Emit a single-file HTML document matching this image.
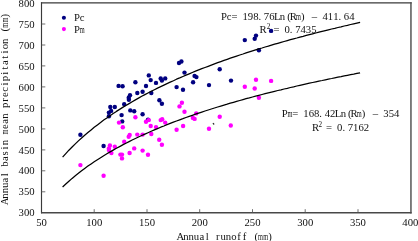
<!DOCTYPE html>
<html><head><meta charset="utf-8"><title>chart</title>
<style>
html,body{margin:0;padding:0;background:#fff;}
body{width:418px;height:241px;overflow:hidden;}
svg{display:block;will-change:transform;}
text{font-family:"Liberation Serif",serif;font-size:10.7px;fill:#111;}
</style></head><body>
<svg width="418" height="241" viewBox="0 0 418 241">
<rect x="0" y="0" width="418" height="241" fill="#fff"/>

<path d="M41.5,213.4 V2.3" stroke="#3a3a3a" stroke-width="1.15" fill="none"/>
<path d="M40.95,2.85 H411.7" stroke="#3a3a3a" stroke-width="1.1" fill="none"/>
<path d="M410.95,2.3 V213.4" stroke="#505050" stroke-width="1.45" fill="none"/>
<path d="M41.1,212.75 H411.6" stroke="#484848" stroke-width="1.35" fill="none"/>
<path d="M94.2,212.8 V209.20000000000002 M147.0,212.8 V209.20000000000002 M199.7,212.8 V209.20000000000002 M252.5,212.8 V209.20000000000002 M305.2,212.8 V209.20000000000002 M358.0,212.8 V209.20000000000002 M41.5,191.8 H45.3 M41.5,170.8 H45.3 M41.5,149.9 H45.3 M41.5,128.9 H45.3 M41.5,107.9 H45.3 M41.5,86.9 H45.3 M41.5,65.9 H45.3 M41.5,45.0 H45.3 M41.5,24.0 H45.3" stroke="#555" stroke-width="0.85" fill="none"/>
<g transform="translate(0,225.5)"><text text-anchor="middle" x="38.83 44.17" y="0" xml:space="preserve">50</text></g>
<g transform="translate(0,225.5)"><text text-anchor="middle" x="88.91 94.24 99.58" y="0" xml:space="preserve">100</text></g>
<g transform="translate(0,225.5)"><text text-anchor="middle" x="141.65 146.99 152.32" y="0" xml:space="preserve">150</text></g>
<g transform="translate(0,225.5)"><text text-anchor="middle" x="194.40 199.73 205.06" y="0" xml:space="preserve">200</text></g>
<g transform="translate(0,225.5)"><text text-anchor="middle" x="247.14 252.47 257.80" y="0" xml:space="preserve">250</text></g>
<g transform="translate(0,225.5)"><text text-anchor="middle" x="299.88 305.21 310.55" y="0" xml:space="preserve">300</text></g>
<g transform="translate(0,225.5)"><text text-anchor="middle" x="352.62 357.96 363.29" y="0" xml:space="preserve">350</text></g>
<g transform="translate(0,225.5)"><text text-anchor="middle" x="404.97 410.30 415.63" y="0" xml:space="preserve">400</text></g>
<g transform="translate(0,216.4)"><text text-anchor="middle" x="21.27 26.60 31.93" y="0" xml:space="preserve">300</text></g>
<g transform="translate(0,195.4)"><text text-anchor="middle" x="21.27 26.60 31.93" y="0" xml:space="preserve">350</text></g>
<g transform="translate(0,174.4)"><text text-anchor="middle" x="21.27 26.60 31.93" y="0" xml:space="preserve">400</text></g>
<g transform="translate(0,153.5)"><text text-anchor="middle" x="21.27 26.60 31.93" y="0" xml:space="preserve">450</text></g>
<g transform="translate(0,132.5)"><text text-anchor="middle" x="21.27 26.60 31.93" y="0" xml:space="preserve">500</text></g>
<g transform="translate(0,111.5)"><text text-anchor="middle" x="21.27 26.60 31.93" y="0" xml:space="preserve">550</text></g>
<g transform="translate(0,90.5)"><text text-anchor="middle" x="21.27 26.60 31.93" y="0" xml:space="preserve">600</text></g>
<g transform="translate(0,69.5)"><text text-anchor="middle" x="21.27 26.60 31.93" y="0" xml:space="preserve">650</text></g>
<g transform="translate(0,48.6)"><text text-anchor="middle" x="21.27 26.60 31.93" y="0" xml:space="preserve">700</text></g>
<g transform="translate(0,27.6)"><text text-anchor="middle" x="21.27 26.60 31.93" y="0" xml:space="preserve">750</text></g>
<g transform="translate(0,6.6)"><text text-anchor="middle" x="21.27 26.60 31.93" y="0" xml:space="preserve">800</text></g>
<g transform="translate(0,239.8)"><text text-anchor="middle" x="180.47 185.80 191.13 196.47 201.80 207.13 212.46 217.80 223.13 228.46 233.80 239.13 244.46 249.80 256.23 260.46 265.79 270.03" y="0" xml:space="preserve">Annual runoff (  )</text><text x="258.00" y="0" textLength="4.93" lengthAdjust="spacingAndGlyphs">m</text><text x="263.33" y="0" textLength="4.93" lengthAdjust="spacingAndGlyphs">m</text></g>
<g transform="translate(8.2,204) rotate(-90)"><text text-anchor="middle" x="2.67 8.00 13.33 18.67 24.00 29.33 34.66 40.00 45.33 50.66 56.00 61.33 66.66 72.00 77.33 82.66 87.99 93.33 98.66 103.99 109.33 114.66 119.99 125.33 130.66 135.99 141.32 146.66 151.99 157.32 162.66 167.99 174.42 178.66 183.99 188.22" y="0" xml:space="preserve">Annual basin  ean precipitation (  )</text><text x="69.53" y="0" textLength="4.93" lengthAdjust="spacingAndGlyphs">m</text><text x="176.19" y="0" textLength="4.93" lengthAdjust="spacingAndGlyphs">m</text><text x="181.52" y="0" textLength="4.93" lengthAdjust="spacingAndGlyphs">m</text></g>
<g fill="#000080"><circle cx="80.4" cy="134.7" r="2.2"/><circle cx="110.3" cy="107.0" r="2.2"/><circle cx="114.8" cy="107.0" r="2.2"/><circle cx="111.1" cy="110.9" r="2.2"/><circle cx="108.9" cy="112.6" r="2.2"/><circle cx="108.9" cy="116.2" r="2.2"/><circle cx="124.2" cy="104.2" r="2.2"/><circle cx="121.6" cy="115.1" r="2.2"/><circle cx="122.2" cy="121.4" r="2.2"/><circle cx="130.3" cy="110.4" r="2.2"/><circle cx="134.2" cy="111.2" r="2.2"/><circle cx="142.6" cy="114.2" r="2.2"/><circle cx="148" cy="119.8" r="2.2"/><circle cx="161.9" cy="103.7" r="2.2"/><circle cx="159.4" cy="100.2" r="2.2"/><circle cx="103.6" cy="146.0" r="2.2"/><circle cx="181.4" cy="61.5" r="2.2"/><circle cx="179" cy="63" r="2.2"/><circle cx="184.5" cy="72.6" r="2.2"/><circle cx="194.6" cy="75.9" r="2.2"/><circle cx="196.4" cy="77.1" r="2.2"/><circle cx="193.1" cy="82.3" r="2.2"/><circle cx="183" cy="89.8" r="2.2"/><circle cx="209" cy="85.1" r="2.2"/><circle cx="219.7" cy="69.2" r="2.2"/><circle cx="231" cy="80.6" r="2.2"/><circle cx="148.8" cy="75.4" r="2.2"/><circle cx="150.7" cy="80.1" r="2.2"/><circle cx="160.7" cy="78.4" r="2.2"/><circle cx="161.9" cy="80.6" r="2.2"/><circle cx="165.2" cy="78.4" r="2.2"/><circle cx="156" cy="82.9" r="2.2"/><circle cx="135.4" cy="82.3" r="2.2"/><circle cx="146" cy="86" r="2.2"/><circle cx="122.6" cy="86.3" r="2.2"/><circle cx="142.6" cy="91.8" r="2.2"/><circle cx="137.3" cy="93" r="2.2"/><circle cx="151.3" cy="93" r="2.2"/><circle cx="130" cy="95.2" r="2.2"/><circle cx="128.7" cy="97.7" r="2.2"/><circle cx="128.9" cy="99.8" r="2.2"/><circle cx="176.6" cy="87.1" r="2.2"/><circle cx="118.6" cy="85.9" r="2.2"/><circle cx="244.8" cy="40.1" r="2.2"/><circle cx="256" cy="35.6" r="2.2"/><circle cx="254.7" cy="38.8" r="2.2"/><circle cx="271.1" cy="30.9" r="2.2"/><circle cx="258.9" cy="50.2" r="2.2"/></g>
<g fill="#ff00ff"><circle cx="119" cy="122.6" r="2.2"/><circle cx="122.8" cy="127.2" r="2.2"/><circle cx="128.7" cy="136.8" r="2.2"/><circle cx="129.7" cy="134.9" r="2.2"/><circle cx="80.4" cy="165.1" r="2.2"/><circle cx="103.6" cy="175.7" r="2.2"/><circle cx="109.9" cy="145.4" r="2.2"/><circle cx="108.9" cy="148.4" r="2.2"/><circle cx="108.9" cy="150" r="2.2"/><circle cx="111.4" cy="153.1" r="2.2"/><circle cx="114.8" cy="146.7" r="2.2"/><circle cx="120.4" cy="154.6" r="2.2"/><circle cx="122" cy="154.6" r="2.2"/><circle cx="122" cy="158.4" r="2.2"/><circle cx="124.2" cy="141.8" r="2.2"/><circle cx="129.6" cy="153" r="2.2"/><circle cx="135.4" cy="117.3" r="2.2"/><circle cx="146" cy="121.8" r="2.2"/><circle cx="148.8" cy="120.1" r="2.2"/><circle cx="150.7" cy="126" r="2.2"/><circle cx="156" cy="127.1" r="2.2"/><circle cx="160.7" cy="120.1" r="2.2"/><circle cx="162.2" cy="119.3" r="2.2"/><circle cx="165.2" cy="122.6" r="2.2"/><circle cx="176.6" cy="129.7" r="2.2"/><circle cx="183.1" cy="126" r="2.2"/><circle cx="184.5" cy="111.7" r="2.2"/><circle cx="179.5" cy="106.4" r="2.2"/><circle cx="181.9" cy="102.8" r="2.2"/><circle cx="137.3" cy="134.6" r="2.2"/><circle cx="142.6" cy="134.6" r="2.2"/><circle cx="151.3" cy="134" r="2.2"/><circle cx="159.2" cy="139.8" r="2.2"/><circle cx="161.9" cy="144.7" r="2.2"/><circle cx="134.2" cy="148.4" r="2.2"/><circle cx="142.6" cy="150.6" r="2.2"/><circle cx="148" cy="154.8" r="2.2"/><circle cx="244.8" cy="86.8" r="2.2"/><circle cx="196.2" cy="113.4" r="2.2"/><circle cx="192.9" cy="117.9" r="2.2"/><circle cx="194.6" cy="118.9" r="2.2"/><circle cx="209" cy="128.8" r="2.2"/><circle cx="219.7" cy="116.8" r="2.2"/><circle cx="230.8" cy="125.5" r="2.2"/><circle cx="256" cy="79.8" r="2.2"/><circle cx="254.7" cy="88.5" r="2.2"/><circle cx="271.1" cy="80.9" r="2.2"/><circle cx="258.9" cy="97.7" r="2.2"/></g>
<path d="M62.6,157.1 L65.8,153.6 L68.9,150.2 L72.1,147.0 L75.3,143.9 L78.4,140.9 L81.6,138.0 L84.7,135.2 L87.9,132.5 L91.1,129.9 L94.2,127.3 L97.4,124.9 L100.6,122.5 L103.7,120.1 L106.9,117.9 L110.1,115.7 L113.2,113.5 L116.4,111.4 L119.6,109.4 L122.7,107.4 L125.9,105.5 L129.1,103.6 L132.2,101.7 L135.4,99.9 L138.5,98.1 L141.7,96.3 L144.9,94.6 L148.0,93.0 L151.2,91.3 L154.4,89.7 L157.5,88.1 L160.7,86.6 L163.9,85.1 L167.0,83.6 L170.2,82.1 L173.4,80.7 L176.5,79.2 L179.7,77.9 L182.9,76.5 L186.0,75.1 L189.2,73.8 L192.3,72.5 L195.5,71.2 L198.7,69.9 L201.8,68.7 L205.0,67.5 L208.2,66.3 L211.3,65.1 L214.5,63.9 L217.7,62.7 L220.8,61.6 L224.0,60.4 L227.2,59.3 L230.3,58.2 L233.5,57.1 L236.6,56.1 L239.8,55.0 L243.0,54.0 L246.1,52.9 L249.3,51.9 L252.5,50.9 L255.6,49.9 L258.8,48.9 L262.0,48.0 L265.1,47.0 L268.3,46.1 L271.5,45.1 L274.6,44.2 L277.8,43.3 L281.0,42.4 L284.1,41.5 L287.3,40.6 L290.4,39.7 L293.6,38.8 L296.8,38.0 L299.9,37.1 L303.1,36.3 L306.3,35.4 L309.4,34.6 L312.6,33.8 L315.8,33.0 L318.9,32.2 L322.1,31.4 L325.3,30.6 L328.4,29.8 L331.6,29.0 L334.8,28.3 L337.9,27.5 L341.1,26.8 L344.2,26.0 L347.4,25.3 L350.6,24.5 L353.7,23.8 L356.9,23.1 L360.1,22.4" stroke="#000" stroke-width="1.25" fill="none" stroke-linejoin="round"/>
<path d="M62.6,187.0 L65.8,184.0 L68.9,181.2 L72.1,178.4 L75.3,175.8 L78.4,173.3 L81.6,170.8 L84.7,168.4 L87.9,166.1 L91.1,163.9 L94.2,161.8 L97.4,159.7 L100.6,157.7 L103.7,155.7 L106.9,153.8 L110.1,151.9 L113.2,150.1 L116.4,148.3 L119.6,146.6 L122.7,144.9 L125.9,143.2 L129.1,141.6 L132.2,140.0 L135.4,138.5 L138.5,137.0 L141.7,135.5 L144.9,134.1 L148.0,132.7 L151.2,131.3 L154.4,129.9 L157.5,128.6 L160.7,127.2 L163.9,126.0 L167.0,124.7 L170.2,123.4 L173.4,122.2 L176.5,121.0 L179.7,119.8 L182.9,118.7 L186.0,117.5 L189.2,116.4 L192.3,115.3 L195.5,114.2 L198.7,113.1 L201.8,112.1 L205.0,111.0 L208.2,110.0 L211.3,109.0 L214.5,108.0 L217.7,107.0 L220.8,106.1 L224.0,105.1 L227.2,104.2 L230.3,103.2 L233.5,102.3 L236.6,101.4 L239.8,100.5 L243.0,99.6 L246.1,98.7 L249.3,97.9 L252.5,97.0 L255.6,96.2 L258.8,95.3 L262.0,94.5 L265.1,93.7 L268.3,92.9 L271.5,92.1 L274.6,91.3 L277.8,90.5 L281.0,89.8 L284.1,89.0 L287.3,88.3 L290.4,87.5 L293.6,86.8 L296.8,86.0 L299.9,85.3 L303.1,84.6 L306.3,83.9 L309.4,83.2 L312.6,82.5 L315.8,81.8 L318.9,81.1 L322.1,80.5 L325.3,79.8 L328.4,79.1 L331.6,78.5 L334.8,77.8 L337.9,77.2 L341.1,76.6 L344.2,75.9 L347.4,75.3 L350.6,74.7 L353.7,74.1 L356.9,73.4 L360.1,72.8" stroke="#000" stroke-width="1.25" fill="none" stroke-linejoin="round"/>
<circle cx="63.9" cy="17.75" r="2.05" fill="#000080"/><circle cx="63.9" cy="29.1" r="2.05" fill="#ff00ff"/>
<g transform="translate(0,21.2)"><text text-anchor="middle" x="76.87 82.20" y="0" xml:space="preserve">Pc</text></g>
<g transform="translate(0,32.6)"><text text-anchor="middle" x="76.87 82.20" y="0" xml:space="preserve">P </text><text x="79.73" y="0" textLength="4.93" lengthAdjust="spacingAndGlyphs">m</text></g>
<g transform="translate(0,20)"><text text-anchor="middle" x="223.87 229.20 234.53 239.87 245.20 250.53 255.86 259.90 266.53 271.86 277.20 282.53 288.96 293.20 298.53 302.76 309.19 314.53 319.86 325.19 330.53 335.86 339.89 346.53 351.86" y="0" xml:space="preserve">Pc= 198.76Ln(R ) – 411.64</text><text x="296.06" y="0" textLength="4.93" lengthAdjust="spacingAndGlyphs">m</text></g>
<g transform="translate(0,32.9)"><text text-anchor="middle" x="263.17" y="0" xml:space="preserve">R</text></g>
<text x="266.8" y="28.8" style="font-size:7.2px">2</text>
<g transform="translate(0,32.9)"><text text-anchor="middle" x="276.47 281.80 287.13 291.17 297.80 303.13 308.46 313.80" y="0" xml:space="preserve">= 0.7435</text></g>
<g transform="translate(0,116.6)"><text text-anchor="middle" x="284.67 290.00 295.33 300.67 306.00 311.33 316.66 320.70 327.33 332.66 338.00 343.33 349.76 354.00 359.33 363.56 369.99 375.33 380.66 385.99 391.33 396.66" y="0" xml:space="preserve">P = 168.42Ln(R ) – 354</text><text x="287.53" y="0" textLength="4.93" lengthAdjust="spacingAndGlyphs">m</text><text x="356.86" y="0" textLength="4.93" lengthAdjust="spacingAndGlyphs">m</text></g>
<g transform="translate(0,130.7)"><text text-anchor="middle" x="315.57" y="0" xml:space="preserve">R</text></g>
<text x="318.4" y="126.9" style="font-size:7.2px">2</text>
<g transform="translate(0,130.7)"><text text-anchor="middle" x="329.07 334.40 339.73 343.77 350.40 355.73 361.06 366.40" y="0" xml:space="preserve">= 0.7162</text></g>
<path d="M212.9,123.2 l1.3,1.3" stroke="#222" stroke-width="1.1"/>
</svg></body></html>
